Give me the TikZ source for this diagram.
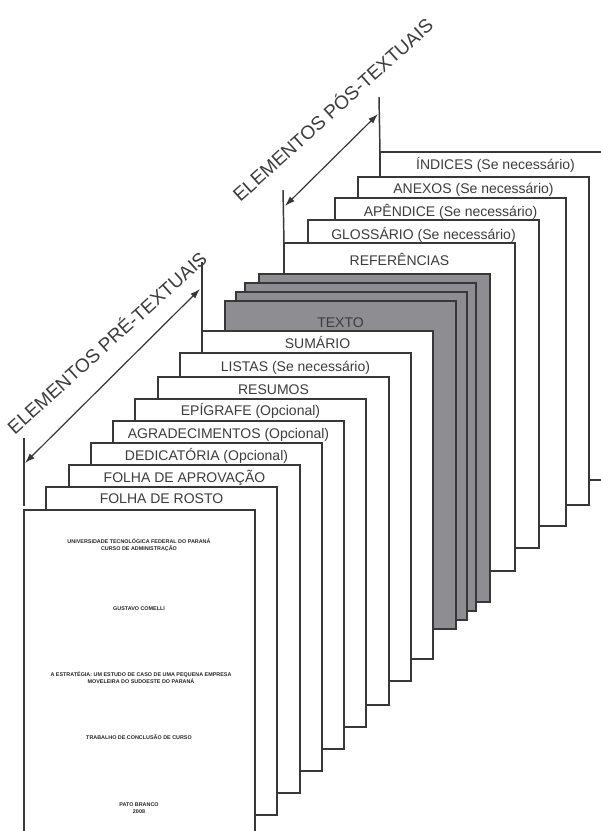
\documentclass[tikz,border=0pt]{standalone}
\usepackage{fontspec}
\setmainfont{Liberation Sans}
\usetikzlibrary{arrows.meta,positioning}
\definecolor{pageline}{RGB}{55,55,55}
\definecolor{labeltext}{RGB}{60,60,60}
\definecolor{textofill}{RGB}{142,142,146}

\begin{document}
\begin{tikzpicture}[x=0.75pt, y=-0.75pt,
  page/.style={draw=pageline, line width=1.1pt, fill=white, anchor=north west,
    inner sep=0pt, outer sep=0pt, minimum width=173.25pt, minimum height=246pt},
  textpage/.style={page, fill=textofill},
  pagelabel/.style={anchor=base, text=labeltext, inner sep=0pt,
    font=\fontsize{10.5}{12}\selectfont},
  covertext/.style={align=center, inner sep=0pt, text=black!85,
    font=\bfseries\fontsize{4.05}{5.4}\selectfont},
  grouptitle/.style={anchor=base, rotate=42, inner sep=0pt, text=labeltext,
    font=\fontsize{14.25}{16}\selectfont},
  tick/.style={draw=pageline, line width=1.1pt},
  span/.style={draw=pageline, line width=0.9pt, {Latex[length=7.5pt,width=5pt]}-{Latex[length=7.5pt,width=5pt]}}]
\useasboundingbox (0,0) rectangle (600,831);
\fill[white] (0,0) rectangle (600,831);

% post-textual pages
\node[page] (ind) at (380,152) {};
\node[pagelabel, yshift=-13.5pt] at (ind.north) {ÍNDICES (Se necessário)};
\node[page] (anx) at (358,177) {};
\node[pagelabel, yshift=-12.75pt] at (anx.north) {ANEXOS (Se necessário)};
\node[page] (apd) at (335,198) {};
\node[pagelabel, yshift=-13.5pt] at (apd.north) {APÊNDICE (Se necessário)};
\node[page] (glo) at (308,220) {};
\node[pagelabel, yshift=-14.25pt] at (glo.north) {GLOSSÁRIO (Se necessário)};
\node[page] (ref) at (284,243) {};
\node[pagelabel, yshift=-16.5pt] at (ref.north) {REFERÊNCIAS};

% text pages
\node[textpage] (tx4) at (259,274) {};
\node[textpage] (tx3) at (245,283) {};
\node[textpage] (tx2) at (236,292) {};
\node[textpage] (tx1) at (225,301) {};
\node[pagelabel, yshift=-19.5pt] at (tx1.north) {TEXTO};

% pre-textual pages
\node[page] (sum) at (202,331) {};
\node[pagelabel, yshift=-12.75pt] at (sum.north) {SUMÁRIO};
\node[page] (lis) at (180,353) {};
\node[pagelabel, yshift=-13.5pt] at (lis.north) {LISTAS (Se necessário)};
\node[page] (res) at (158,377) {};
\node[pagelabel, yshift=-12.75pt] at (res.north) {RESUMOS};
\node[page] (epi) at (135,399) {};
\node[pagelabel, yshift=-12pt] at (epi.north) {EPÍGRAFE (Opcional)};
\node[page] (agr) at (113,421) {};
\node[pagelabel, yshift=-12.75pt] at (agr.north) {AGRADECIMENTOS (Opcional)};
\node[page] (ded) at (91,443) {};
\node[pagelabel, yshift=-12.75pt] at (ded.north) {DEDICATÓRIA (Opcional)};
\node[page] (apr) at (69,465) {};
\node[pagelabel, yshift=-12.75pt] at (apr.north) {FOLHA DE APROVAÇÃO};
\node[page] (ros) at (46,487) {};
\node[pagelabel, yshift=-12pt] at (ros.north) {FOLHA DE ROSTO};

% cover
\node[page] (cap) at (24,510) {};
\node[covertext] (uni) at (139,545.5) {UNIVERSIDADE TECNOLÓGICA FEDERAL DO PARANÁ\\CURSO DE ADMINISTRAÇÃO};
\node[covertext] (aut) at (139,609) {GUSTAVO COMELLI};
\node[covertext] (tit) at (141,678) {A ESTRATÉGIA: UM ESTUDO DE CASO DE UMA PEQUENA EMPRESA\\MOVELEIRA DO SUDOESTE DO PARANÁ};
\node[covertext] (tcc) at (139,737) {TRABALHO DE CONCLUSÃO DE CURSO};
\node[covertext] (loc) at (139,808.5) {PATO BRANCO\\2008};

% pre-textual span
\coordinate (preLa) at (24,438);
\coordinate (preLb) at (24,506);
\coordinate (preRa) at (202,262);
\coordinate (preRb) at (sum.north west);
\draw[tick] (preLa) -- (preLb);
\draw[tick] (preRa) -- (preRb);
\coordinate (preA) at (25,463);
\coordinate (preB) at (200,289);
\draw[span] (preA) -- (preB);
\node[grouptitle] (pretit) at (111.6,348) {ELEMENTOS PRÉ-TEXTUAIS};

% post-textual span
\coordinate (posLa) at (283,190);
\coordinate (posLb) at (ref.north west);
\coordinate (posRa) at (379,97);
\coordinate (posRb) at (ind.north west);
\draw[tick] (posLa) -- (posLb);
\draw[tick] (posRa) -- (posRb);
\coordinate (posA) at (285,206);
\coordinate (posB) at (378,114);
\draw[span] (posA) -- (posB);
\node[grouptitle] (postit) at (337.5,115) {ELEMENTOS PÓS-TEXTUAIS};
\end{tikzpicture}
\end{document}
